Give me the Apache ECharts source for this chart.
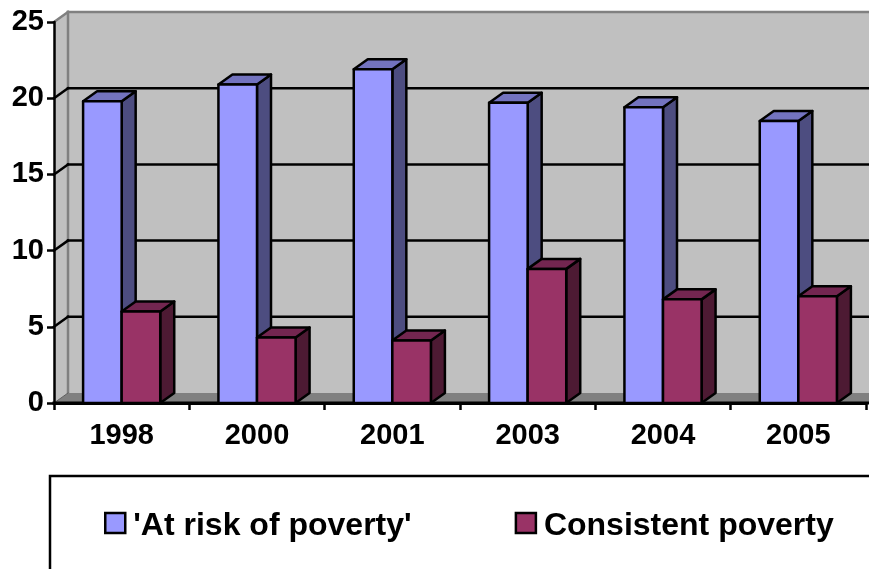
<!DOCTYPE html>
<html>
<head>
<meta charset="utf-8">
<style>html,body{margin:0;padding:0;background:#fff}#c{width:869px;height:569px}</style>
<script src="https://cdn.jsdelivr.net/npm/echarts@6/dist/echarts.min.js"></script>
</head>
<body>
<div id="c"></div>
<script>
const years = ['1998', '2000', '2001', '2003', '2004', '2005'];
const atRisk = [19.8, 20.9, 21.9, 19.7, 19.4, 18.5];
const consistent = [6.0, 4.3, 4.1, 8.8, 6.8, 7.0];
const yTicks = [0, 5, 10, 15, 20, 25];
const seriesNames = ["'At risk of poverty'", 'Consistent poverty'];

// Fake perspective: how far the back plane sits from the front plane, in pixels.
const DEPTH_X = 14;
const DEPTH_Y = -10;
const BAR_FRACTION = 0.285;
const INK = '#000';
const STROKE = 2.5;
const FONT = '"Liberation Sans", Arial, sans-serif';

function seg(x1, y1, x2, y2, color, width) {
  return { type: 'line', shape: { x1, y1, x2, y2 },
           style: { stroke: color, lineWidth: width, lineCap: 'square' } };
}
function poly(points, fill, stroke, width) {
  return { type: 'polygon', shape: { points },
           style: { fill, stroke: stroke || null, lineWidth: width || 0, lineJoin: 'round' } };
}

// Side wall, back wall, floor and the gridlines that run across them.
function renderWalls(params, api) {
  const cs = params.coordSys;
  const left = cs.x, right = cs.x + cs.width;
  const base = api.coord([0, 0])[1];
  const top = api.coord([0, 25])[1];
  const bx = left + DEPTH_X, far = right + 20;
  const children = [
    poly([[left, top], [bx, top + DEPTH_Y], [bx, base + DEPTH_Y], [left, base]], '#C0C0C0'),
    poly([[bx, top + DEPTH_Y], [far, top + DEPTH_Y], [far, base + DEPTH_Y], [bx, base + DEPTH_Y]], '#C0C0C0'),
    poly([[left, base], [bx, base + DEPTH_Y], [far, base + DEPTH_Y], [far, base]], '#808080'),
    seg(left, top, bx, top + DEPTH_Y, '#808080', STROKE),
    seg(bx, top + DEPTH_Y, far, top + DEPTH_Y, '#808080', STROKE),
    seg(bx, top + DEPTH_Y, bx, base + DEPTH_Y, '#808080', STROKE)
  ];
  yTicks.slice(1, -1).forEach(function (t) {
    const y = api.coord([0, t])[1];
    children.push(seg(left, y, bx, y + DEPTH_Y, INK, STROKE));
    children.push(seg(bx, y + DEPTH_Y, far, y + DEPTH_Y, INK, STROKE));
  });
  children.push(seg(left, base, bx, base + DEPTH_Y, '#606060', 1));
  children.push(seg(left, base, far, base, INK, 3));
  return { type: 'group', children };
}

// One extruded bar: front, top and right faces.
function barRenderer(slot, front, topFace, sideFace) {
  return function (params, api) {
    const p = api.coord([api.value(0), api.value(1)]);
    const p0 = api.coord([api.value(0), 0]);
    const w = api.size([1, 0])[0] * BAR_FRACTION;
    const x0 = p[0] + (slot === 0 ? -w : 0);
    const x1 = x0 + w;
    const y = p[1], b = p0[1];
    return {
      type: 'group',
      children: [
        poly([[x1, y], [x1 + DEPTH_X, y + DEPTH_Y], [x1 + DEPTH_X, b + DEPTH_Y], [x1, b]], sideFace, INK, STROKE),
        poly([[x0, y], [x0 + DEPTH_X, y + DEPTH_Y], [x1 + DEPTH_X, y + DEPTH_Y], [x1, y]], topFace, INK, STROKE),
        poly([[x0, y], [x1, y], [x1, b], [x0, b]], front, INK, STROKE)
      ]
    };
  };
}

const chart = echarts.init(document.getElementById('c'), null, { renderer: 'canvas' });
chart.setOption({
  animation: false,
  backgroundColor: '#fff',
  grid: { left: 54, right: 3, top: 22, bottom: 166, containLabel: false },
  xAxis: {
    type: 'category',
    data: years,
    z: 5,
    axisLine: { show: true, lineStyle: { color: INK, width: 3 } },
    axisTick: { show: true, length: 7, lineStyle: { color: INK, width: 2.5 } },
    axisLabel: { color: INK, fontFamily: FONT, fontWeight: 'bold', fontSize: 29, margin: 18 },
    splitLine: { show: false }
  },
  yAxis: {
    type: 'value',
    min: 0,
    max: 25,
    interval: 5,
    z: 5,
    axisLine: { show: true, lineStyle: { color: INK, width: 2.5 } },
    axisTick: { show: true, length: 7, lineStyle: { color: INK, width: 2.5 } },
    axisLabel: { color: INK, fontFamily: FONT, fontWeight: 'bold', fontSize: 29, margin: 10 },
    splitLine: { show: false }
  },
  legend: {
    left: 104,
    top: 510,
    padding: 0,
    icon: 'rect',
    itemWidth: 20,
    itemHeight: 20,
    itemGap: 103,
    formatter: function (name) { return '{t|' + name + '}'; },
    textStyle: {
      color: INK, fontFamily: FONT, fontWeight: 'bold', fontSize: 32,
      rich: { t: { color: INK, fontFamily: FONT, fontWeight: 'bold', fontSize: 32, padding: [6, 0, 0, 3] } }
    },
    data: [
      { name: seriesNames[0], itemStyle: { color: '#9999FF', borderColor: INK, borderWidth: 2.5 } },
      { name: seriesNames[1], itemStyle: { color: '#993366', borderColor: INK, borderWidth: 2.5 } }
    ]
  },
  graphic: [{
    type: 'rect',
    z: 1,
    shape: { x: 50, y: 476, width: 860, height: 140 },
    style: { fill: 'none', stroke: INK, lineWidth: 2.5 }
  }],
  series: [
    { type: 'custom', name: 'walls', z: 1, clip: false, silent: true,
      renderItem: renderWalls, data: [0], encode: { x: 0 }, legendHoverLink: false },
    { type: 'custom', name: seriesNames[0], z: 2, clip: false,
      itemStyle: { color: '#9999FF' },
      renderItem: barRenderer(0, '#9999FF', '#7373BF', '#4D4D80'),
      data: years.map((y, i) => [i, atRisk[i]]), encode: { x: 0, y: 1 } },
    { type: 'custom', name: seriesNames[1], z: 3, clip: false,
      itemStyle: { color: '#993366' },
      renderItem: barRenderer(1, '#993366', '#732650', '#4D1A33'),
      data: years.map((y, i) => [i, consistent[i]]), encode: { x: 0, y: 1 } }
  ]
});
</script>
</body>
</html>
